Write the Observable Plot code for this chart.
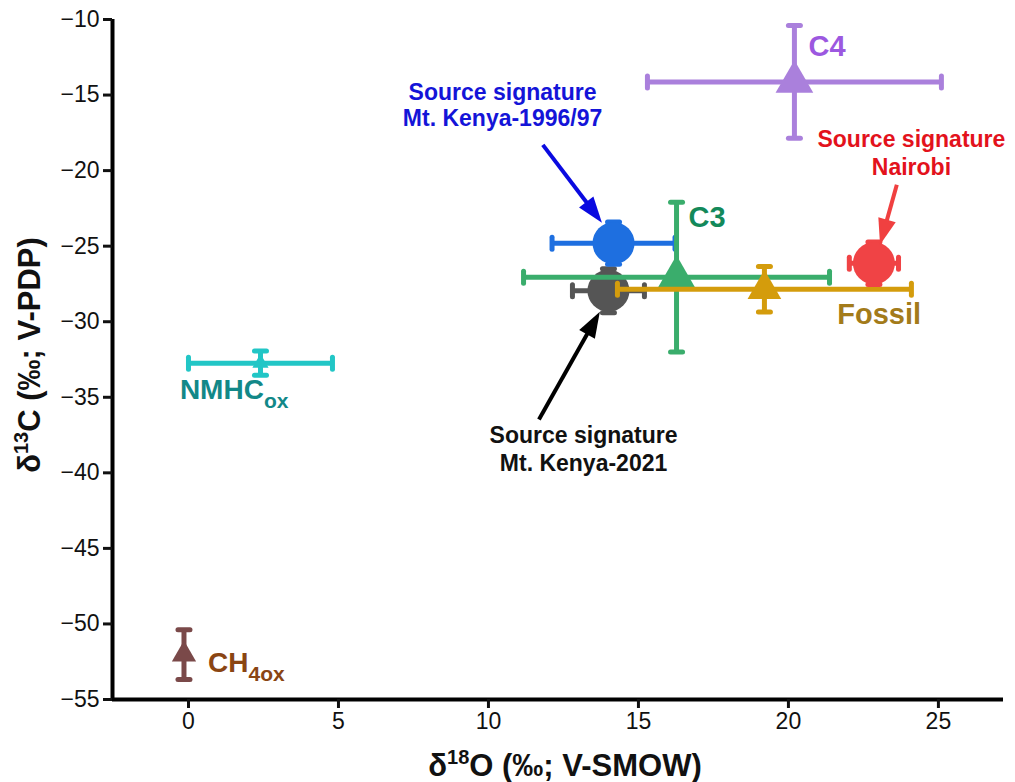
<!DOCTYPE html>
<html><head><meta charset="utf-8">
<script src="https://cdn.jsdelivr.net/npm/d3@7"></script>
<script src="https://cdn.jsdelivr.net/npm/@observablehq/plot@0.6"></script>
<style>body{margin:0;background:#fff} svg{display:block}</style>
</head><body><div id="chart"></div><script>
// ---- data ----
const series  = ["Mt. Kenya-2021","Mt. Kenya-1996/97","C3","Fossil","Nairobi","C4","NMHCox","CH4ox"];
const d18O    = [14.0, 14.17, 16.27, 19.2, 22.85, 20.2, 2.4, -0.15];
const d18OErr = [1.2, 2.05, 5.1, 4.9, 0.82, 4.9, 2.4, 0];
const d13C    = [-27.95, -24.8, -27.05, -27.85, -26.13, -14.13, -32.74, -52.03];
const d13CErr = [1.45, 1.4, 4.95, 1.5, 1.4, 3.73, 0.8, 1.65];
const shape   = ["circle","circle","triangle","triangle","circle","triangle","triangle","triangle"];

const xTicks = [0, 5, 10, 15, 20, 25];
const yTicks = [-55, -50, -45, -40, -35, -30, -25, -20, -15, -10];

// annotation labels (data coordinates)
const labelText = ["C4","C3","Fossil","Source signature","Nairobi","Source signature","Mt. Kenya-1996/97","Source signature","Mt. Kenya-2021"];
const labelX    = [20.67, 16.67, 21.63, 24.1, 24.1, 10.47, 10.47, 13.17, 13.17];
const labelY    = [-11.78, -23.15, -29.56, -17.93, -19.78, -14.82, -16.54, -37.56, -39.41];
const labelKey  = ["C4","C3","Fossil","Nairobi","Nairobi","Mt. Kenya-1996/97","Mt. Kenya-1996/97","Mt. Kenya-2021","Mt. Kenya-2021"];

// arrows (data coordinates): start -> tip
const arrowKey = ["Mt. Kenya-1996/97","Nairobi","Mt. Kenya-2021"];
const arrowX1 = [11.83, 23.63, 11.7];
const arrowY1 = [-18.33, -20.97, -36.5];
const arrowX2 = [13.8, 23.07, 13.73];
const arrowY2 = [-23.48, -24.94, -29.37];

// ---- styles ----
const markColor = {"Mt. Kenya-2021":"#555555","Mt. Kenya-1996/97":"#1e6fe0","C3":"#3aad6c","Fossil":"#d49c0c","Nairobi":"#f04345","C4":"#aa80dc","NMHCox":"#22c6c6","CH4ox":"#7a4949"};
const textColor = {"Mt. Kenya-2021":"#111111","Mt. Kenya-1996/97":"#1414d8","C3":"#13895a","Fossil":"#a37b1a","Nairobi":"#e3121c","C4":"#9c58e0","NMHCox":"#128888","CH4ox":"#8a4513"};
const arrowColor = {"Mt. Kenya-2021":"#000000","Mt. Kenya-1996/97":"#0a0ae0","Nairobi":"#f04040"};
const markerR = {"Mt. Kenya-2021":21,"Mt. Kenya-1996/97":21,"C3":14,"Fossil":12.5,"Nairobi":21,"C4":14,"NMHCox":6,"CH4ox":9};

const rows = series.map((s, i) => ({
  s, x: d18O[i], y: d13C[i],
  xlo: d18O[i] - d18OErr[i], xhi: d18O[i] + d18OErr[i],
  ylo: d13C[i] - d13CErr[i], yhi: d13C[i] + d13CErr[i],
  xe: d18OErr[i], ye: d13CErr[i], shape: shape[i]
}));
const labels = labelText.map((t, i) => ({t, x: labelX[i], y: labelY[i], k: labelKey[i]}));

const vCap = {draw(ctx, size){ const r = Math.sqrt(size / Math.PI); ctx.moveTo(0, -r); ctx.lineTo(0, r); }};
const hCap = {draw(ctx, size){ const r = Math.sqrt(size / Math.PI); ctx.moveTo(-r, 0); ctx.lineTo(r, 0); }};

const marks = [];
rows.forEach(d => {
  const c = markColor[d.s];
  const common = {stroke: c, strokeWidth: 5};
  if (d.xe > 0) {
    marks.push(Plot.ruleY([d], {y: "y", x1: "xlo", x2: "xhi", ...common}));
    marks.push(Plot.dot([d, d], {x: (v, i) => i ? v.xhi : v.xlo, y: "y", symbol: vCap, r: 6, fill: "none", ...common, strokeLinecap: "round"}));
  }
  if (d.ye > 0) {
    marks.push(Plot.ruleX([d], {x: "x", y1: "ylo", y2: "yhi", ...common}));
    marks.push(Plot.dot([d, d], {x: "x", y: (v, i) => i ? v.yhi : v.ylo, symbol: hCap, r: 6, fill: "none", ...common, strokeLinecap: "round"}));
  }
  marks.push(Plot.dot([d], {x: "x", y: "y", symbol: d.shape, r: markerR[d.s], fill: c, stroke: "none"}));
});

const plot = Plot.plot({
  width: 1015, height: 782,
  marginLeft: 112, marginRight: 12, marginTop: 19, marginBottom: 83,
  style: {fontFamily: "'Liberation Sans', Arial, sans-serif", fontSize: "23px", color: "#111", background: "#fff"},
  x: {domain: [-2.533, 27.17]},
  y: {domain: [-55, -10]},
  marks: [
    ...marks,
    Plot.text(labels.filter(l => ["C4","C3","Fossil"].includes(l.k)), {x: "x", y: "y", text: "t", textAnchor: "start", fill: l => textColor[l.k], fontSize: 29, fontWeight: "bold"}),
    Plot.text(labels.filter(l => !["C4","C3","Fossil"].includes(l.k)), {x: "x", y: "y", text: "t", textAnchor: "middle", fill: l => textColor[l.k], fontSize: 23, fontWeight: "bold"}),
    Plot.ruleX([-2.533], {y1: -55, y2: -10, stroke: "#000", strokeWidth: 4}),
    Plot.ruleY([-55], {x1: -2.533, x2: 27.17, stroke: "#000", strokeWidth: 4}),
    Plot.axisX({ticks: xTicks, tickSize: 9, tickPadding: 4, strokeWidth: 3, label: null, tickFormat: d => String(d), fontSize: 23}),
    Plot.axisY({ticks: yTicks, tickSize: 9, tickPadding: 4, strokeWidth: 3, label: null, tickFormat: d => (d < 0 ? "\u2212" + Math.abs(d) : String(d)), fontSize: 23})
  ]
});

const sx = plot.scale("x"), sy = plot.scale("y");
const svg = d3.select(plot);

// arrows with filled heads
arrowKey.forEach((k, i) => {
  const x1 = sx.apply(arrowX1[i]), y1 = sy.apply(arrowY1[i]);
  const x2 = sx.apply(arrowX2[i]), y2 = sy.apply(arrowY2[i]);
  const dx = x2 - x1, dy = y2 - y1, L = Math.hypot(dx, dy), ux = dx / L, uy = dy / L;
  const hl = 26, hw = 9;
  const bx = x2 - ux * hl, by = y2 - uy * hl;
  const c = arrowColor[k];
  svg.append("line").attr("x1", x1).attr("y1", y1).attr("x2", bx + ux * 2).attr("y2", by + uy * 2)
    .attr("stroke", c).attr("stroke-width", 4);
  svg.append("path").attr("d", `M${x2},${y2}L${bx - uy * hw},${by + ux * hw}L${bx + uy * hw},${by - ux * hw}Z`).attr("fill", c);
});

// subscripted labels
function subLabel(main, sub, xv, yv, color) {
  const t = svg.append("text").attr("x", sx.apply(xv)).attr("y", sy.apply(yv)).attr("dy", "0.35em")
    .attr("text-anchor", "start")
    .attr("fill", color).attr("font-weight", "bold").attr("font-size", 28)
    .attr("font-family", "'Liberation Sans', Arial, sans-serif");
  t.append("tspan").text(main);
  t.append("tspan").attr("font-size", 21).attr("dy", 9).text(sub);
}
subLabel("NMHC", "ox", -0.27, -34.52, textColor["NMHCox"]);
subLabel("CH", "4ox", 0.67, -52.56, textColor["CH4ox"]);

// axis titles
function axisTitle(g, pre, sup, post) {
  g.attr("font-weight", "bold").attr("font-size", 31).attr("fill", "#111").attr("text-anchor", "middle")
   .attr("font-family", "'Liberation Sans Narrow', 'Liberation Sans', Arial, sans-serif");
  g.append("tspan").text(pre);
  g.append("tspan").attr("font-size", 20).attr("dy", -12).text(sup);
  g.append("tspan").attr("dy", 12).text(post);
}
axisTitle(svg.append("text").attr("x", 565).attr("y", 776), "δ", "18", "O (‰; V-SMOW)");
axisTitle(svg.append("text").attr("transform", "translate(40,355) rotate(-90)"), "δ", "13", "C (‰; V-PDP)");

document.getElementById("chart").appendChild(plot);
</script></body></html>
